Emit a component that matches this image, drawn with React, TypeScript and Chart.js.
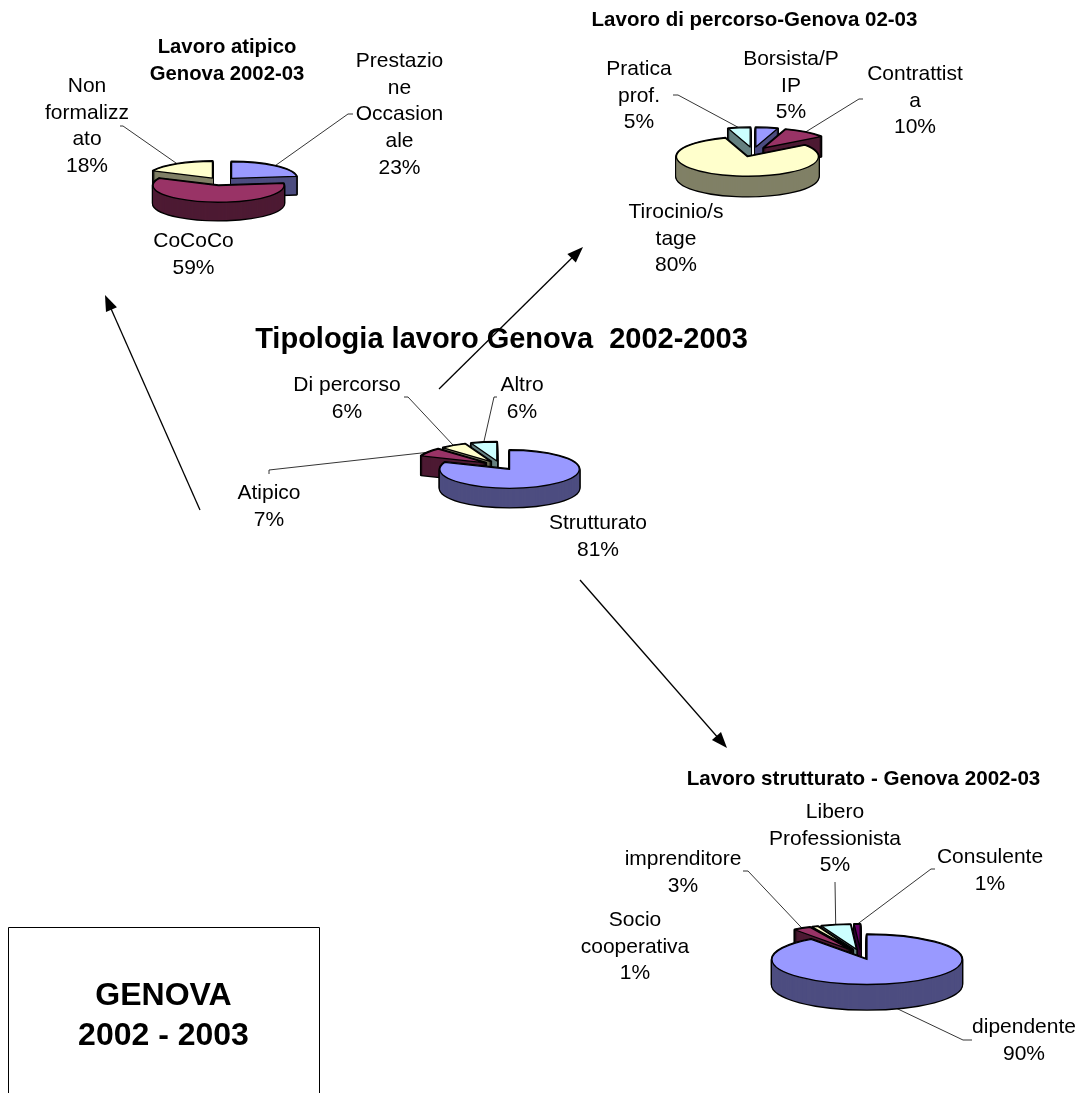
import React, { useEffect, useRef } from "react";
import { Chart, registerables } from "chart.js";

Chart.register(...registerables);

const W = 1078;
const H = 1093;
const FONT = '"Liberation Sans", Arial, sans-serif';

// ---- data ----
const atipicoCategories = ["Prestazione Occasionale", "CoCoCo", "Non formalizzato"];
const atipicoValues = [23, 59, 18];
const percorsoCategories = ["Borsista/PIP", "Contrattista", "Tirocinio/stage", "Pratica prof."];
const percorsoValues = [5, 10, 80, 5];
const tipologiaCategories = ["Strutturato", "Atipico", "Di percorso", "Altro"];
const tipologiaValues = [81, 7, 6, 6];
const strutturatoCategories = ["dipendente", "imprenditore", "Socio cooperativa", "Libero Professionista", "Consulente"];
const strutturatoValues = [90, 3, 1, 5, 1];

// Wrapped label text as it appears on the picture (the percentage is added from the values)
const atipicoWrapped = [["Prestazio", "ne", "Occasion", "ale"], ["CoCoCo"], ["Non", "formalizz", "ato"]];
const percorsoWrapped = [["Borsista/P", "IP"], ["Contrattist", "a"], ["Tirocinio/s", "tage"], ["Pratica", "prof."]];
const tipologiaWrapped = [["Strutturato"], ["Atipico"], ["Di percorso"], ["Altro"]];
const strutturatoWrapped = [["dipendente"], ["imprenditore"], ["Socio", "cooperativa"], ["Libero", "Professionista"], ["Consulente"]];

const mainTitle = "Tipologia lavoro Genova  2002-2003";
const boxLines = ["GENOVA", "2002 - 2003"];

// ---- styles ----
const topColors = ["#9999FF", "#993366", "#FFFFCC", "#CCFFFF", "#660066"];
const wallColors = ["#4D4D80", "#4D1A33", "#808066", "#668080", "#330033"];

type Spec = {
  categories: string[];
  values: number[];
  wrapped: string[][];
  cx: number; cy: number; r: number; squash: number; explode: number; depth: number;
  labelPos: [number, number][];
  leaders: ([number, number][] | null)[];
  title?: { lines: string[]; x: number; y: number; size: number; step: number };
  overlay?: boolean;
};

const specs: Spec[] = [
  {
    categories: atipicoCategories, values: atipicoValues, wrapped: atipicoWrapped,
    cx: 221, cy: 181.5, r: 65.5, squash: 0.255, explode: 16, depth: 18,
    labelPos: [[399.5, 61], [193.5, 241], [87, 86]],
    leaders: [[[353, 114], [348, 114]], null, [[120, 126], [123, 126]]],
    title: { lines: ["Lavoro atipico", "Genova 2002-03"], x: 227, y: 47, size: 20.3, step: 27 },
  },
  {
    categories: percorsoCategories, values: percorsoValues, wrapped: percorsoWrapped,
    cx: 753, cy: 152, r: 71, squash: 0.275, explode: 18, depth: 20,
    labelPos: [[791, 59], [915, 74], [676, 212], [639, 69]],
    leaders: [null, [[863, 99], [859, 99]], null, [[673, 95], [678, 95]]],
    title: { lines: ["Lavoro di percorso-Genova 02-03"], x: 754.5, y: 20, size: 20.5, step: 27 },
  },
  {
    categories: tipologiaCategories, values: tipologiaValues, wrapped: tipologiaWrapped,
    cx: 500, cy: 465.5, r: 69.7, squash: 0.272, explode: 17, depth: 19,
    labelPos: [[598, 523], [269, 493], [347, 385], [522, 385]],
    leaders: [null, [[269, 474], [269, 470]], [[404, 397], [408, 397]], [[497, 397], [494, 397]]],
    overlay: true,
  },
  {
    categories: strutturatoCategories, values: strutturatoValues, wrapped: strutturatoWrapped,
    cx: 860.8, cy: 954.5, r: 95, squash: 0.263, explode: 20, depth: 25,
    labelPos: [[1024, 1027], [683, 859], [635, 920], [835, 812], [990, 857]],
    leaders: [[[972, 1040], [963, 1040]], [[743, 871], [748, 871]], null, [[835, 882]], [[935, 869], [931, 869]]],
    title: { lines: ["Lavoro strutturato - Genova 2002-03"], x: 863.5, y: 779, size: 20.6, step: 27 },
  },
];

const arrows: [number, number, number, number][] = [
  [200, 510, 105, 295],
  [439, 389, 583, 247],
  [580, 580, 727, 748],
];

function slicePath(ctx: CanvasRenderingContext2D, x: number, y: number, rx: number, ry: number, a0: number, a1: number) {
  ctx.beginPath();
  ctx.moveTo(x, y);
  ctx.ellipse(x, y, rx, ry, 0, a0, a1);
  ctx.closePath();
}

function drawOverlay(ctx: CanvasRenderingContext2D) {
  ctx.save();
  ctx.fillStyle = "#000";
  ctx.textAlign = "center";
  ctx.textBaseline = "middle";
  ctx.font = `bold 29px ${FONT}`;
  ctx.fillText(mainTitle, 501.5, 340);

  ctx.strokeStyle = "#000";
  ctx.lineWidth = 1.3;
  for (const [x0, y0, x1, y1] of arrows) {
    const a = Math.atan2(y1 - y0, x1 - x0);
    ctx.beginPath();
    ctx.moveTo(x0, y0);
    ctx.lineTo(x1 - 10 * Math.cos(a), y1 - 10 * Math.sin(a));
    ctx.stroke();
    ctx.beginPath();
    ctx.moveTo(x1, y1);
    ctx.lineTo(x1 - 16 * Math.cos(a) + 6 * Math.sin(a), y1 - 16 * Math.sin(a) - 6 * Math.cos(a));
    ctx.lineTo(x1 - 16 * Math.cos(a) - 6 * Math.sin(a), y1 - 16 * Math.sin(a) + 6 * Math.cos(a));
    ctx.closePath();
    ctx.fill();
  }

  ctx.lineWidth = 1;
  ctx.beginPath();
  ctx.moveTo(8.5, H + 2);
  ctx.lineTo(8.5, 927.5);
  ctx.lineTo(319.5, 927.5);
  ctx.lineTo(319.5, H + 2);
  ctx.stroke();
  ctx.font = `bold 32px ${FONT}`;
  ctx.fillText(boxLines[0], 163.5, 996);
  ctx.fillText(boxLines[1], 163.5, 1036);
  ctx.restore();
}

const pie3d = {
  id: "pie3d",
  beforeDatasetsDraw(chart: any) {
    const spec: Spec = chart.options.plugins.pie3d.spec;
    const ctx: CanvasRenderingContext2D = chart.ctx;
    const arcs = chart.getDatasetMeta(0).data;
    const geo = arcs.map((arc: any, i: number) => {
      const mid = (arc.startAngle + arc.endAngle) / 2;
      const off = arc.options.offset;
      return {
        i, mid,
        a0: arc.startAngle, a1: arc.endAngle,
        rx: arc.outerRadius, ry: arc.outerRadius * spec.squash,
        x: arc.x + Math.cos(mid) * off,
        y: arc.y + Math.sin(mid) * off * spec.squash,
      };
    });
    const order = [...geo].sort((p: any, q: any) => Math.sin(p.mid) - Math.sin(q.mid));

    // leader lines sit under the slices
    ctx.save();
    ctx.strokeStyle = "#000";
    ctx.lineWidth = 0.8;
    geo.forEach((g: any) => {
      const pts = spec.leaders[g.i];
      if (!pts) return;
      const front = Math.sin(g.mid) > 0;
      ctx.beginPath();
      pts.forEach((p, k) => (k ? ctx.lineTo(p[0], p[1]) : ctx.moveTo(p[0], p[1])));
      ctx.lineTo(g.x + g.rx * Math.cos(g.mid), g.y + g.ry * Math.sin(g.mid) + (front ? spec.depth : 0));
      ctx.stroke();
    });
    ctx.restore();

    for (const g of order) {
      ctx.save();
      ctx.lineJoin = "round";
      // outline of the extruded body
      ctx.strokeStyle = "#000";
      ctx.lineWidth = 2.6;
      for (let d = spec.depth; d >= 0; d--) {
        slicePath(ctx, g.x, g.y + d, g.rx, g.ry, g.a0, g.a1);
        ctx.stroke();
      }
      // walls
      ctx.fillStyle = wallColors[g.i];
      for (let d = spec.depth; d >= 0; d--) {
        slicePath(ctx, g.x, g.y + d, g.rx, g.ry, g.a0, g.a1);
        ctx.fill();
      }
      // top face
      slicePath(ctx, g.x, g.y, g.rx, g.ry, g.a0, g.a1);
      ctx.fillStyle = chart.data.datasets[0].backgroundColor[g.i];
      ctx.fill();
      ctx.lineWidth = 1.3;
      ctx.stroke();
      ctx.restore();
    }
    return false;
  },
  afterDraw(chart: any) {
    const spec: Spec = chart.options.plugins.pie3d.spec;
    const ctx: CanvasRenderingContext2D = chart.ctx;
    ctx.save();
    ctx.fillStyle = "#000";
    ctx.textAlign = "center";
    ctx.textBaseline = "middle";
    ctx.font = `21px ${FONT}`;
    spec.wrapped.forEach((lines, i) => {
      const [x, y] = spec.labelPos[i];
      [...lines, `${spec.values[i]}%`].forEach((t, k) => ctx.fillText(t, x, y + k * 26.8));
    });
    if (spec.title) {
      const t = spec.title;
      ctx.font = `bold ${t.size}px ${FONT}`;
      t.lines.forEach((l, k) => ctx.fillText(l, t.x, t.y + k * t.step));
    }
    ctx.restore();
    if (spec.overlay) drawOverlay(ctx);
  },
};

function Pie3D({ spec }: { spec: Spec }) {
  const ref = useRef<HTMLCanvasElement | null>(null);
  useEffect(() => {
    const dx = 2 * spec.cx - W;
    const dy = 2 * spec.cy - H;
    const chart = new Chart(ref.current as HTMLCanvasElement, {
      type: "pie",
      plugins: [pie3d as any],
      data: {
        labels: spec.categories,
        datasets: [
          {
            data: spec.values,
            backgroundColor: spec.values.map((_, i) => topColors[i]),
            borderWidth: 0,
            offset: spec.explode,
            radius: spec.r,
          } as any,
        ],
      },
      options: {
        responsive: false,
        animation: false,
        layout: {
          padding: {
            left: Math.max(dx, 0),
            right: Math.max(-dx, 0),
            top: Math.max(dy, 0),
            bottom: Math.max(-dy, 0),
          },
        },
        plugins: {
          legend: { display: false },
          tooltip: { enabled: false },
          title: { display: false },
          pie3d: { spec },
        } as any,
      },
    });
    return () => chart.destroy();
  }, [spec]);
  return (
    <canvas
      ref={ref}
      width={W}
      height={H}
      style={{ position: "absolute", left: 0, top: 0, width: W, height: H, display: "block" }}
    />
  );
}

export default function App() {
  return (
    <div style={{ position: "absolute", left: 0, top: 0, width: W, height: H, overflow: "hidden", background: "#fff" }}>
      {specs.map((s, i) => (
        <Pie3D key={i} spec={s} />
      ))}
    </div>
  );
}
